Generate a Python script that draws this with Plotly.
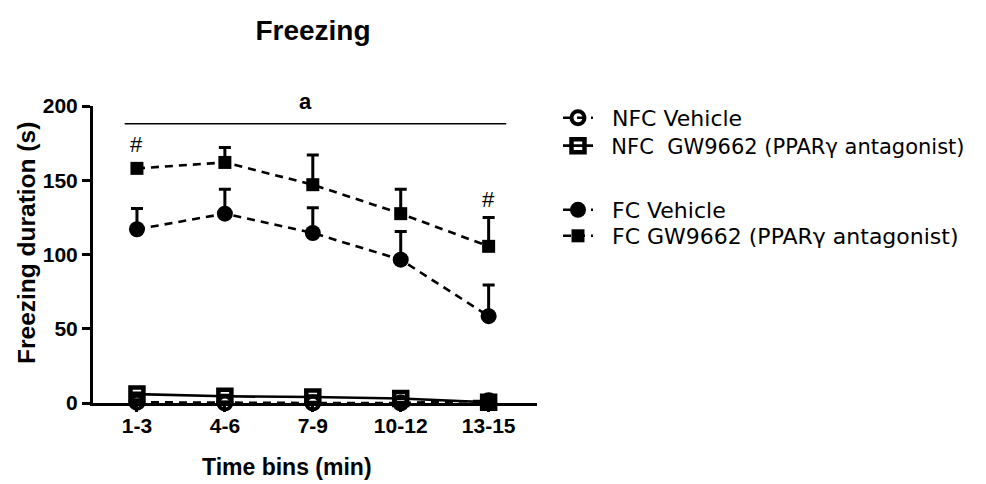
import plotly.graph_objects as go

# ---- data ----
time_bins = ["1-3", "4-6", "7-9", "10-12", "13-15"]
bin_pos = [1, 2, 3, 4, 5]

nfc_vehicle = [0.5, 0.0, 0.0, 0.0, 1.5]
nfc_vehicle_err = [0.8, 0.5, 0.5, 0.5, 0.8]

nfc_gw = [6.0, 4.5, 4.0, 3.0, 0.5]
nfc_gw_err = [0.8, 0.8, 0.8, 0.8, 0.5]

fc_vehicle = [117, 127.5, 114.5, 96.5, 58.5]
fc_vehicle_err = [14, 16.5, 17, 19, 21]

fc_gw = [158, 162, 147, 127.5, 105.5]
fc_gw_err = [3, 10, 20, 16.5, 19.5]

y_ticks = [0, 50, 100, 150, 200]

series_names = ["NFC Vehicle", "NFC  GW9662 (PPARγ antagonist)",
                "FC Vehicle", "FC GW9662 (PPARγ antagonist)"]

# significance annotations
sig_line_x = [0.86, 5.2]
sig_line_y = 188
sig_a = dict(x=2.92, y=213, text="a")
hash_marks = [dict(x=1, y=174, text="#"), dict(x=5, y=137, text="#")]

FONT = "Arial, 'Liberation Sans', sans-serif"
LEG_FONT = "'DejaVu Sans', Arial, sans-serif"
BLACK = "#000000"
Y_MAX = 200
PAD = "\u00a0\u00a0"

# figure is drawn with an 8px page offset; plot area in figure px: x 85..529, y 98..395
FIG_W, FIG_H = 978, 476
legend_rows_px = [110, 138, 202, 228]   # row centres in figure px
legend_font_sizes = [22, 21, 22, 22]
legend_left_px = 550

fig = go.Figure()

def add_series(name, y, err, symbol, dash, size, lw_marker, legend_id):
    fig.add_trace(go.Scatter(
        x=bin_pos, y=y, name=PAD + name, mode="lines+markers",
        legend=legend_id,
        line=dict(color=BLACK, width=2.6, dash=dash),
        marker=dict(symbol=symbol, size=size, color=BLACK,
                    line=dict(color=BLACK, width=lw_marker)),
        error_y=dict(type="data", array=err, arrayminus=[0] * len(err),
                     symmetric=False, color=BLACK, thickness=3, width=6),
        cliponaxis=False,
    ))

add_series(series_names[0], nfc_vehicle, nfc_vehicle_err, "circle-open", "8px,6px", 13, 4, "legend")
add_series(series_names[1], nfc_gw, nfc_gw_err, "square-open", "solid", 13, 4.5, "legend2")
add_series(series_names[2], fc_vehicle, fc_vehicle_err, "circle", "8px,6px", 16, 0, "legend3")
add_series(series_names[3], fc_gw, fc_gw_err, "square", "8px,6px", 13, 0, "legend4")

fig.add_shape(type="line", xref="x", yref="y",
              x0=sig_line_x[0], x1=sig_line_x[1], y0=sig_line_y, y1=sig_line_y,
              line=dict(color=BLACK, width=1.5))

fig.add_annotation(x=sig_a["x"], y=sig_a["y"] / Y_MAX, xref="x", yref="paper", text=sig_a["text"],
                   showarrow=False, font=dict(family=FONT, size=22, color=BLACK, weight="bold"))
for h in hash_marks:
    fig.add_annotation(x=h["x"], y=h["y"], xref="x", yref="y", text=h["text"],
                       showarrow=False, font=dict(family=FONT, size=22, color=BLACK))

# axis titles as annotations (positioned like the original)
fig.add_annotation(x=(26 - 93) / 444, y=(403 - 243) / 297, xref="paper", yref="paper",
                   xanchor="center", yanchor="middle",
                   text="Freezing duration (s)", textangle=-90, showarrow=False,
                   font=dict(family=FONT, size=24.5, color=BLACK, weight="bold"))
fig.add_annotation(x=(287 - 93) / 444, y=(403 - 467) / 297, xref="paper", yref="paper",
                   xanchor="center", yanchor="middle",
                   text="Time bins (min)", showarrow=False,
                   font=dict(family=FONT, size=23, color=BLACK, weight="bold"))

def legend_cfg(row_px, size):
    return dict(x=legend_left_px / FIG_W, xref="container", xanchor="left",
                y=1 - row_px / FIG_H, yref="container", yanchor="middle",
                font=dict(family=LEG_FONT, size=size, color=BLACK),
                itemwidth=30, bgcolor="rgba(0,0,0,0)", borderwidth=0)

fig.update_layout(
    width=FIG_W, height=FIG_H, autosize=False,
    margin=dict(l=85, r=449, t=98, b=81, autoexpand=False),
    paper_bgcolor="white", plot_bgcolor="white",
    font=dict(family=FONT, color=BLACK),
    title=dict(text="Freezing", x=305 / FIG_W, xanchor="center", xref="container",
               y=1 - 22 / FIG_H, yanchor="middle", yref="container",
               font=dict(family=FONT, size=28, color=BLACK, weight="bold")),
    showlegend=True,
    legend=legend_cfg(legend_rows_px[0], legend_font_sizes[0]),
    legend2=legend_cfg(legend_rows_px[1], legend_font_sizes[1]),
    legend3=legend_cfg(legend_rows_px[2], legend_font_sizes[2]),
    legend4=legend_cfg(legend_rows_px[3], legend_font_sizes[3]),
    xaxis=dict(range=[0.5, 5.55], tickvals=bin_pos, ticktext=time_bins,
               showline=True, linecolor=BLACK, linewidth=3,
               ticks="outside", ticklen=6, tickwidth=2.5, tickcolor=BLACK,
               ticklabelstandoff=-4,
               showgrid=False, zeroline=False,
               tickfont=dict(family=FONT, size=21, color=BLACK, weight="bold")),
    yaxis=dict(range=[0, Y_MAX], tickvals=y_ticks,
               showline=True, linecolor=BLACK, linewidth=3,
               ticks="outside", ticklen=8, tickwidth=2.5, tickcolor=BLACK,
               showgrid=False, zeroline=False,
               tickfont=dict(family=FONT, size=21, color=BLACK, weight="bold")),
)

fig.write_html("out.html")
